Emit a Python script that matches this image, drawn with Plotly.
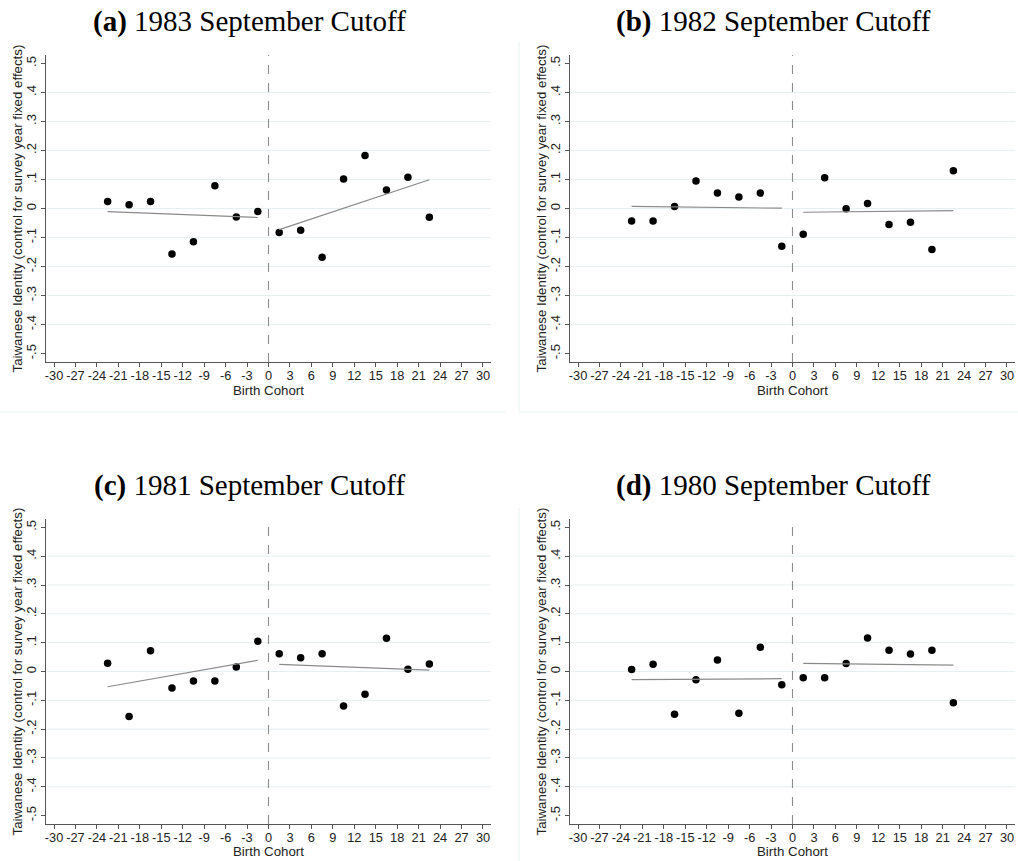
import plotly.graph_objects as go

W, H = 1018, 861

# ---- data ----
x_left = [-22.5, -19.5, -16.5, -13.5, -10.5, -7.5, -4.5, -1.5]
x_right = [1.5, 4.5, 7.5, 10.5, 13.5, 16.5, 19.5, 22.5]

a_left = [0.024, 0.013, 0.024, -0.157, -0.115, 0.078, -0.029, -0.010]
a_right = [-0.083, -0.075, -0.168, 0.102, 0.183, 0.064, 0.108, -0.030]
a_fit_left = [-0.011, -0.031]
a_fit_right = [-0.073, 0.099]

b_left = [-0.043, -0.043, 0.007, 0.095, 0.053, 0.040, 0.053, -0.130]
b_right = [-0.089, 0.106, -0.001, 0.017, -0.055, -0.047, -0.141, 0.130]
b_fit_left = [0.007, 0.001]
b_fit_right = [-0.013, -0.007]

c_left = [0.029, -0.156, 0.072, -0.057, -0.033, -0.033, 0.016, 0.105]
c_right = [0.062, 0.048, 0.062, -0.120, -0.079, 0.115, 0.008, 0.026]
c_fit_left = [-0.053, 0.039]
c_fit_right = [0.025, 0.005]

d_left = [0.007, 0.025, -0.148, -0.029, 0.040, -0.145, 0.084, -0.046]
d_right = [-0.022, -0.022, 0.028, 0.116, 0.074, 0.061, 0.074, -0.108]
d_fit_left = [-0.028, -0.025]
d_fit_right = [0.028, 0.022]

titles = ["<b>(a)</b> 1983 September Cutoff", "<b>(b)</b> 1982 September Cutoff",
          "<b>(c)</b> 1981 September Cutoff", "<b>(d)</b> 1980 September Cutoff"]
x_ticks = list(range(-30, 31, 3))
y_ticks = [0.5, 0.4, 0.3, 0.2, 0.1, 0.0, -0.1, -0.2, -0.3, -0.4, -0.5]
y_tick_labels = [".5", ".4", ".3", ".2", ".1", "0", "-.1", "-.2", "-.3", "-.4", "-.5"]
grid_vals = [0.4, 0.3, 0.2, 0.1, 0.0, -0.1, -0.2, -0.3, -0.4]
y_title = "Taiwanese Identity (control for survey year fixed effects)"
x_title = "Birth Cohort"

panels = [
    (a_left, a_right, a_fit_left, a_fit_right),
    (b_left, b_right, b_fit_left, b_fit_right),
    (c_left, c_right, c_fit_left, c_fit_right),
    (d_left, d_right, d_fit_left, d_fit_right),
]

# ---- layout geometry (pixels) ----
boxes = [(46, 491, 55, 362), (570, 1015, 55, 362),
         (46, 491, 519, 824), (570, 1015, 519, 824)]
title_pos = [(249, 21), (773, 21), (249, 485), (773, 485)]

def px(x):
    return x / W

def py(y):
    return 1 - y / H

fig = go.Figure()
SANS = "Liberation Sans, Arial, sans-serif"
SERIF = "Liberation Serif, Times New Roman, serif"
axis_col = "#555555"
grid_col = "#e6eff1"
fit_col = "#8a8a8a"
txt_col = "#222222"

for i, (yl, yr, fl, fr) in enumerate(panels):
    n = i + 1
    xa = "x" if n == 1 else f"x{n}"
    ya = "y" if n == 1 else f"y{n}"
    for xs, ys in ((x_left, yl), (x_right, yr)):
        fig.add_trace(go.Scatter(x=xs, y=ys, mode="markers", xaxis=xa, yaxis=ya,
                                 marker=dict(color="black", size=7.5),
                                 showlegend=False, hoverinfo="skip"))
    fig.add_trace(go.Scatter(x=[x_left[0], x_left[-1]], y=fl, mode="lines",
                             xaxis=xa, yaxis=ya, line=dict(color=fit_col, width=1.2),
                             showlegend=False, hoverinfo="skip"))
    fig.add_trace(go.Scatter(x=[x_right[0], x_right[-1]], y=fr, mode="lines",
                             xaxis=xa, yaxis=ya, line=dict(color=fit_col, width=1.2),
                             showlegend=False, hoverinfo="skip"))

    l, r, t, b = boxes[i]
    xkey = "xaxis" if n == 1 else f"xaxis{n}"
    ykey = "yaxis" if n == 1 else f"yaxis{n}"
    fig.layout[xkey] = dict(
        domain=[px(l), px(r)], anchor=ya, range=[-31.12, 31.12],
        tickmode="array", tickvals=x_ticks, ticktext=[str(v) for v in x_ticks],
        ticks="outside", ticklen=4, tickcolor=axis_col, tickwidth=1,
        showline=True, linecolor=axis_col, linewidth=1.3, showgrid=False,
        zeroline=False, tickfont=dict(family=SANS, size=12.8, color=txt_col),
        tickangle=0, ticklabelstandoff=-3,
    )
    fig.layout[ykey] = dict(
        domain=[py(b), py(t)], anchor=xa, range=[-0.529, 0.529],
        tickmode="array", tickvals=y_ticks, ticktext=y_tick_labels,
        ticks="outside", ticklen=4, tickcolor=axis_col, tickwidth=1,
        showline=True, linecolor=axis_col, linewidth=1.3, showgrid=False,
        zeroline=False, tickangle=-90,
        tickfont=dict(family=SANS, size=13, color=txt_col),
    )
    for g in grid_vals:
        fig.add_shape(type="line", xref=f"{xa} domain", yref=ya, x0=0.003, x1=1,
                      y0=g, y1=g, line=dict(color=grid_col, width=1), layer="below")
    fig.add_shape(type="line", xref=xa, yref=f"{ya} domain", x0=0, x1=0, y0=0, y1=1,
                  line=dict(color="#8c8c8c", width=1.1, dash="dash"))
    tx, ty = title_pos[i]
    fig.add_annotation(text=titles[i], x=px(tx), y=py(ty), xref="paper", yref="paper",
                       showarrow=False, xanchor="center", yanchor="middle",
                       font=dict(family=SERIF, size=29, color="black"))
    fig.add_annotation(text=y_title, x=px(l - 29), y=py((t + b) / 2), xref="paper",
                       yref="paper", showarrow=False, textangle=-90,
                       xanchor="center", yanchor="middle",
                       font=dict(family=SANS, size=13.3, color=txt_col))
    if i < 2:
        xt_y, xt_anchor = py(b + 28), "middle"
    else:
        xt_y, xt_anchor = py(H - 0.5), "bottom"
    fig.add_annotation(text=x_title, x=0, xref=xa,
                       y=xt_y, yref="paper", showarrow=False,
                       xanchor="center", yanchor=xt_anchor,
                       font=dict(family=SANS, size=13.3, color=txt_col))

border_col = "#e8f1f1"
for x0, y0, x1, y1 in [(0, 412, 505, 412), (519, 42, 519, 412), (519, 412, 1018, 412),
                       (519, 508, 519, 861)]:
    fig.add_shape(type="line", xref="paper", yref="paper", x0=px(x0), x1=px(x1),
                  y0=py(y0), y1=py(y1), line=dict(color=border_col, width=1))

fig.update_layout(width=W, height=H, margin=dict(l=0, r=0, t=0, b=0),
                  paper_bgcolor="white", plot_bgcolor="white", showlegend=False)

fig.write_html("out.html")
